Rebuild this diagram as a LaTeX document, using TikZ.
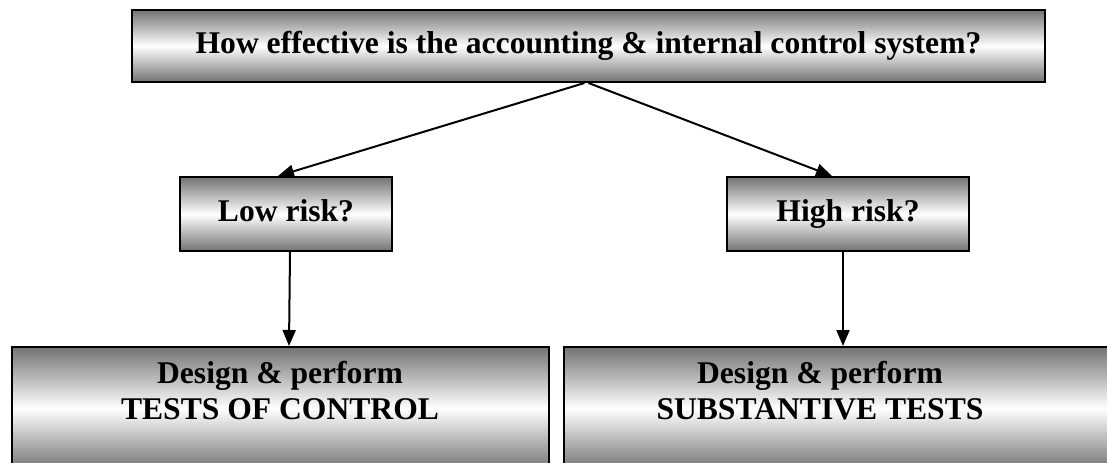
\documentclass[tikz,border=0pt]{standalone}
\usepackage{fontspec}
\setmainfont{Liberation Serif}
\usepackage{tikz}
\usetikzlibrary{arrows.meta}
\newcommand{\boxfont}{\fontsize{15.8}{18}\selectfont\bfseries}
\tikzstyle{question} = [rectangle, draw=black, line width=1pt, top color=black!55, bottom color=black!55, middle color=white, minimum height=36pt, text height=11pt, text depth=3.5pt, text centered, font=\boxfont]
\tikzstyle{testbox} = [rectangle, draw=black, line width=1pt, top color=black!55, bottom color=black!55, middle color=white, minimum height=61.5pt]
\tikzstyle{testtext} = [align=center, font=\boxfont]
\tikzstyle{arrow} = [line width=1pt, -{Triangle[length=8pt,width=6.5pt]}]

\begin{document}
\begin{tikzpicture}[x=0.5pt, y=-0.5pt]
    \clip (0,0) rectangle (1107,462);

    % Nodes
    \node (eff) [question, minimum width=456.5pt] at (588.5,46) {How effective is the accounting \& internal control system?};
    \node (low) [question, minimum width=106pt, minimum height=37pt] at (286,214) {Low risk?};
    \node (high) [question, minimum width=121pt, minimum height=37pt] at (848,214) {High risk?};
    \node (toc) [testbox, minimum width=268.5pt] at (280.5,408.5) {};
    \node (sub) [testbox, minimum width=283pt] at (847,408.5) {};
    \node (toctext) [testtext] at (280,391) {Design \& perform\\TESTS OF CONTROL};
    \node (subtext) [testtext] at (820,391) {Design \& perform\\SUBSTANTIVE TESTS};

    % Arrows
    \draw [arrow] ([xshift=-2pt]eff.south) -- ([xshift=-4pt]low.north);
    \draw [arrow] ([xshift=0pt]eff.south) -- ([xshift=-8pt]high.north);
    \draw [arrow] ([xshift=2pt]low.south) -- ([xshift=4.25pt]toc.north);
    \draw [arrow] ([xshift=-2.5pt]high.south) -- ([xshift=-2pt]sub.north);

\end{tikzpicture}
\end{document}
